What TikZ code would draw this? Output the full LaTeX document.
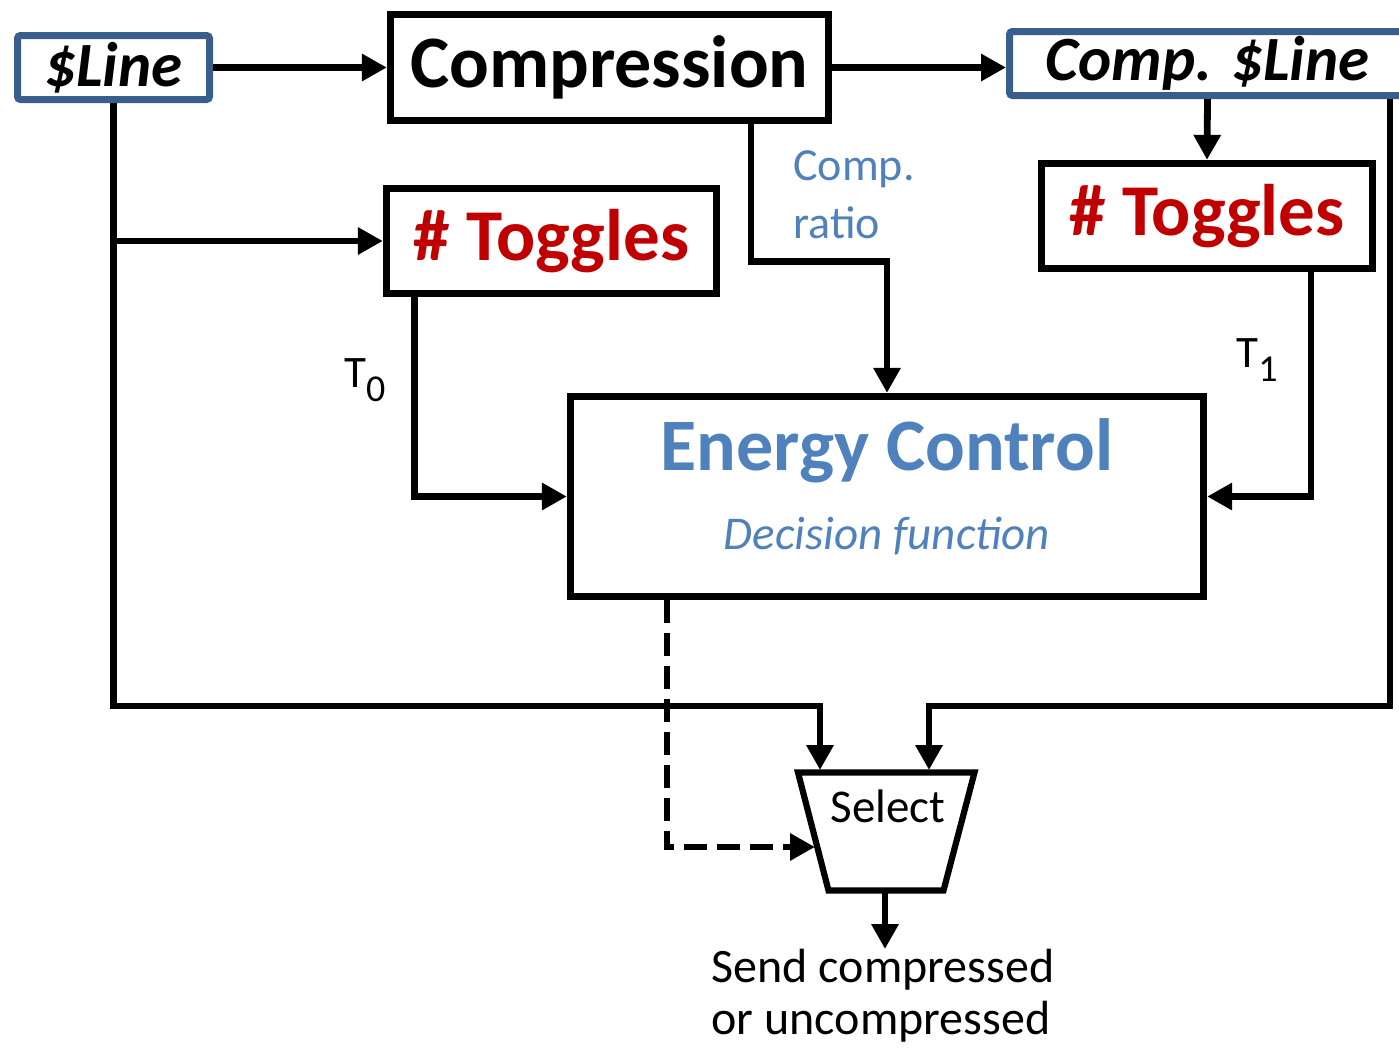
\documentclass[tikz,border=0pt]{standalone}
\usepackage{fontspec}
\setmainfont{Carlito}
\usetikzlibrary{arrows.meta,calc}
\definecolor{ink}{HTML}{000000}
\definecolor{lineedge}{HTML}{3A5E8C}
\definecolor{labelblue}{HTML}{4F81BD}
\definecolor{togglered}{HTML}{C00000}
\newcommand{\tsub}[1]{\raisebox{-14pt}{\fontsize{38}{38}\selectfont #1}}
\tikzset{
  >={Triangle[length=25pt,width=26pt]},
  block/.style={draw=ink,line width=6.8pt,align=center,inner sep=4pt},
  cacheline/.style={block,draw=lineedge,line width=7pt,rounded corners=3pt,minimum height=64pt,font=\fontsize{63}{63}\selectfont\bfseries\itshape},
  toggles/.style={block,minimum width=330.5pt,minimum height=105.5pt,text=togglered,font=\fontsize{73}{73}\selectfont\bfseries},
  mux/.style={draw=ink,line width=6.2pt},
  flow/.style={->,draw=ink,line width=6.8pt},
  control/.style={flow,dash pattern=on 23pt off 10pt},
  note/.style={inner sep=0pt,font=\fontsize{45}{45}\selectfont}
}
\begin{document}
\begin{tikzpicture}[x=1pt,y=-1pt]
  \useasboundingbox (0,0) rectangle (1399,1047);
  \node[cacheline,minimum width=192pt] (line) at (113.5,67.5) {\$Line};
  \node[block,minimum width=438.5pt,minimum height=106.5pt,font=\fontsize{74}{74}\selectfont\bfseries] (cmp) at (609.5,67.5) {Compression};
  \node[cacheline,minimum width=396pt] (cline) at (1207.5,63.5) {Comp. \$Line};
  \node[toggles] (tg0) at (551.5,241) {\# Toggles};
  \node[toggles] (tg1) at (1207,216) {\# Toggles};
  \node[block,minimum width=633.5pt,minimum height=200.5pt,text=labelblue,font=\fontsize{74}{79}\selectfont\bfseries] (ec) at (887,496.5) {Energy Control\\{\fontsize{47}{79}\selectfont\mdseries\itshape Decision function\rule[-24pt]{0pt}{24pt}}};

  % selector stage
  \draw[mux] (798,772.5) -- (974.5,772.5) -- (943.5,890.5) -- (828.5,890.5) -- cycle;
  \node[font=\fontsize{47}{47}\selectfont] (sel) at (888,806) {Select};
  \coordinate (in0) at (820,770);
  \coordinate (in1) at (929,770);
  \coordinate (in2) at (815,847);
  \coordinate (sb) at (885,893);
  \node[anchor=north,align=left,inner sep=0pt,font=\fontsize{48}{52}\selectfont] (out) at (883,949) {Send compressed\\or uncompressed};

  \draw[flow] (line) -- (cmp);
  \draw[flow] (cmp.east) -- (cmp.east -| cline.west);
  \draw[flow] (line.south) -- ++(0,603) -| (in0);
  \draw[flow] (line.south |- tg0.west) -- (tg0.west);
  \draw[flow] ($(cmp.south)+(141.5,0)$) -- node[note,pos=.515,right=39pt,align=left,text=labelblue,font=\fontsize{46}{58}\selectfont] (ratio) {Comp.\\ratio} ++(0,137) -| (ec.north);
  \draw[flow] (cline.south) -- (tg1.north);
  \draw[flow] ($(cline.south)+(182.5,0)$) -- ++(0,607) -| (in1);
  \draw[flow] ($(tg0.south west)+(32,0)$) |- node[note,pos=.208,left=26pt] (t0) {T\tsub{0}} (ec.west);
  \draw[flow] ($(tg1.south)+(104,0)$) |- node[note,pos=.197,left=30pt] (t1) {T\tsub{1}} (ec.east);
  \draw[control] ($(ec.south)+(-220,0)$) |- (in2);
  \draw[flow] (sb) -- (sb |- out.north);
\end{tikzpicture}
\end{document}
